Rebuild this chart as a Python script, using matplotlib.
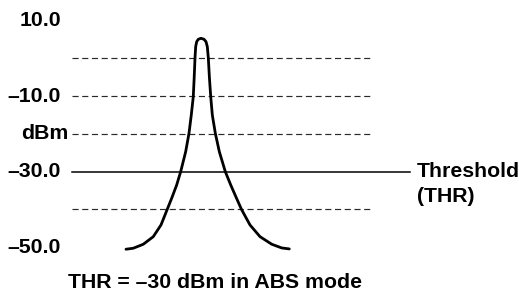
import matplotlib
matplotlib.use("Agg")
import matplotlib.pyplot as plt

plt.rcParams['font.family'] = ['Liberation Sans', 'DejaVu Sans']
plt.rcParams['lines.scale_dashes'] = False

# Level axis labels (dBm)
tick_values = [10, -10, -20, -30, -50]
tick_labels = ['10.0', '\u201310.0', 'dBm', '\u201330.0', '\u201350.0']
grid_levels = [0, -10, -20, -40]
threshold = -30

# Spectrum trace (frequency offset, level in dBm)
trace_freq = [-19.0, -17.18, -14.68, -12.18, -10.25, -8.75, -7.58, -6.33, -5.33,
              -4.08, -3.25, -2.68, -2.18, -1.95, -1.75, -1.58, -1.33, -0.93, -0.25,
              0.5, 1.0, 1.33, 1.58, 1.85, 2.18, 2.58, 3.33, 4.33, 5.83, 7.18,
              8.63, 9.88, 12.0, 14.5, 17.43, 19.93, 21.83]
trace_level = [-50.54, -50.28, -49.22, -47.21, -44.11, -40.13, -37.03, -33.51, -29.99,
               -24.69, -19.81, -14.97, -10.12, -5.0, 0.13, 3.13, 4.45, 5.09, 5.35,
               5.09, 4.45, 3.13, 0.13, -5.0, -10.12, -14.97, -19.81, -24.69, -29.99, -33.51,
               -37.03, -40.0, -44.11, -47.21, -49.22, -50.2, -50.46]

fig = plt.figure(figsize=(5.19, 2.95), dpi=100)
ax = fig.add_axes([0, 0, 1, 1])
ax.set_axis_off()
ax.set_xlim(-50.5, 79.25)
ax.set_ylim(-62.67, 15.5)

x_left, x_dash_end, x_thr_end = -32.5, 42.75, 52.0

for lv in grid_levels:
    ax.plot([x_left, x_dash_end], [lv, lv], color='#2a2a2a', lw=0.85,
            dashes=(4.4, 2.6))
ax.plot([x_left, x_thr_end], [threshold, threshold], color='black', lw=1.1)

ax.plot(trace_freq, trace_level, color='black', lw=2.0,
        solid_joinstyle='round', solid_capstyle='round')

for v, lab in zip(tick_values, tick_labels):
    xr = -33.5 if lab == 'dBm' else -35.25
    ax.text(xr, v, lab, ha='right', va='center', fontsize=15.3,
            fontweight='bold')

ax.text(53.7, threshold, 'Threshold', ha='left', va='center', fontsize=15.3,
        fontweight='bold')
ax.text(53.7, -36.56, '(THR)', ha='left', va='center', fontsize=15.3,
        fontweight='bold')
ax.text(-33.5, -59.34, 'THR = \u201330 dBm in ABS mode', ha='left', va='center',
        fontsize=15.3, fontweight='bold')

fig.savefig('out.png', dpi=100)
